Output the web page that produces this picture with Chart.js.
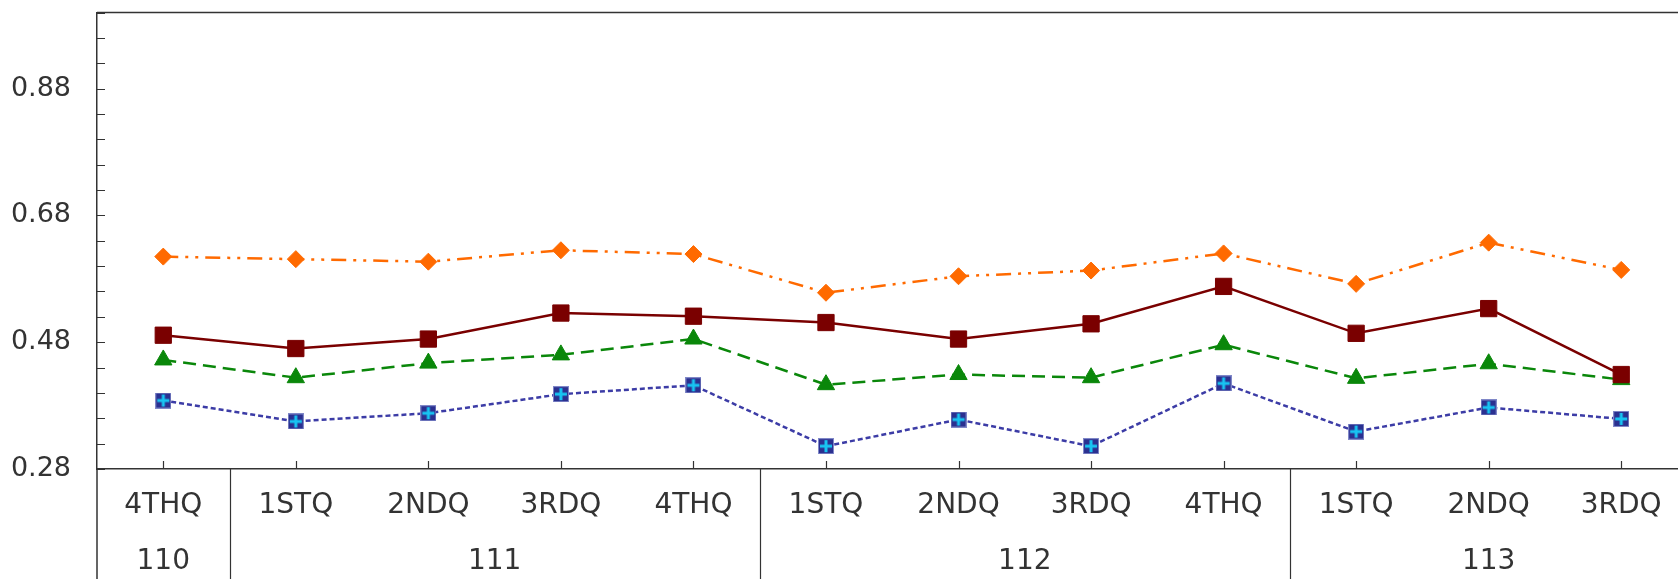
<!DOCTYPE html>
<html>
<head>
<meta charset="utf-8">
<title>Quarterly series</title>
<style>
  html, body { margin: 0; padding: 0; background: #fff; overflow: hidden; }
  /* plot runs a little past the right edge of the window, like the source */
  #wrap { position: absolute; left: 0; top: 0; width: 1700px; height: 579px; }
</style>
<script src="https://cdn.jsdelivr.net/npm/chart.js@4.4.0/dist/chart.umd.min.js"></script>
</head>
<body>
<div id="wrap"><canvas id="chart"></canvas></div>
<script>
// --- data ---
const quarters = ['4THQ', '1STQ', '2NDQ', '3RDQ', '4THQ', '1STQ', '2NDQ', '3RDQ', '4THQ', '1STQ', '2NDQ', '3RDQ'];
const years = ['110', '111', '112', '113'];
const quartersPerYear = [1, 4, 4, 3];

const orangeValues = [0.615, 0.611, 0.607, 0.625, 0.619, 0.558, 0.584, 0.593, 0.620, 0.572, 0.637, 0.594];
const maroonValues = [0.491, 0.470, 0.485, 0.526, 0.521, 0.511, 0.485, 0.509, 0.568, 0.494, 0.533, 0.429];
const greenValues  = [0.452, 0.424, 0.447, 0.460, 0.485, 0.413, 0.429, 0.424, 0.476, 0.423, 0.446, 0.421];
const blueValues   = [0.388, 0.355, 0.368, 0.398, 0.412, 0.316, 0.358, 0.316, 0.415, 0.339, 0.377, 0.359];

const yMin = 0.28, yMax = 1.0, yStep = 0.04;

const AXIS = '#333333';
const TEXT = '#333333';
const FONT = '"DejaVu Sans", "Noto Sans", sans-serif';

// navy square with a cyan cross, used as the blue series marker
function crossSquare() {
    const c = document.createElement('canvas');
    c.width = 16; c.height = 16;
    const g = c.getContext('2d');
    g.fillStyle = '#2B3090';
    g.fillRect(0, 0, 16, 16);
    g.strokeStyle = '#8088c8';
    g.lineWidth = 1;
    g.strokeRect(0.5, 0.5, 15, 15);
    g.fillStyle = '#18c4f2';
    g.fillRect(6.5, 2, 3, 12);
    g.fillRect(2, 6.5, 12, 3);
    return c;
}

// inner tick marks, top border, year dividers and year labels
const decorations = {
    id: 'decorations',
    afterDraw(chart) {
        const { ctx, chartArea: area, scales: { x, y } } = chart;
        const H = chart.height;
        ctx.save();
        ctx.strokeStyle = AXIS;
        ctx.lineWidth = 1.5;
        ctx.beginPath();
        // top border
        ctx.moveTo(area.left, area.top);
        ctx.lineTo(area.right, area.top);
        // left border continues down through the label rows
        ctx.moveTo(area.left, area.bottom);
        ctx.lineTo(area.left, H);
        ctx.stroke();

        ctx.lineWidth = 1.2;
        ctx.beginPath();
        y.ticks.forEach(t => {
            const py = Math.round(y.getPixelForValue(t.value)) + 0.5;
            ctx.moveTo(area.left, py);
            ctx.lineTo(area.left + 8, py);
        });
        quarters.forEach((q, i) => {
            const px = Math.round(x.getPixelForValue(i)) + 0.5;
            ctx.moveTo(px, area.bottom);
            ctx.lineTo(px, area.bottom - 8);
        });
        ctx.stroke();

        // year groups
        let start = 0;
        ctx.fillStyle = TEXT;
        ctx.font = '28px ' + FONT;
        ctx.textAlign = 'center';
        ctx.textBaseline = 'middle';
        years.forEach((yr, k) => {
            const end = start + quartersPerYear[k] - 1;
            const cx = (x.getPixelForValue(start) + x.getPixelForValue(end)) / 2;
            ctx.fillText(yr, cx, 562);
            if (k > 0) {
                const dx = Math.round((x.getPixelForValue(start - 1) + x.getPixelForValue(start)) / 2) + 0.5;
                ctx.beginPath();
                ctx.lineWidth = 1.2;
                ctx.moveTo(dx, area.bottom);
                ctx.lineTo(dx, H);
                ctx.stroke();
            }
            start = end + 1;
        });
        ctx.restore();
    }
};

new Chart(document.getElementById('chart'), {
    type: 'line',
    data: {
        labels: quarters,
        datasets: [
            {
                data: orangeValues,
                borderColor: '#FF6A00', backgroundColor: '#FF6A00',
                borderWidth: 2.5, borderDash: [15, 7, 3, 7, 3, 7],
                pointStyle: 'rectRot', pointRadius: 8.5, pointBorderWidth: 1
            },
            {
                data: maroonValues,
                borderColor: '#7A0000', backgroundColor: '#7A0000',
                borderWidth: 2.5,
                pointStyle: 'rect', pointRadius: 11.5, pointBorderWidth: 1
            },
            {
                data: greenValues,
                borderColor: '#0A870A', backgroundColor: '#0A870A',
                borderWidth: 2.5, borderDash: [13, 7],
                pointStyle: 'triangle', pointRadius: 10, pointBorderWidth: 1
            },
            {
                data: blueValues,
                borderColor: '#3C3CA6', backgroundColor: '#3C3CA6',
                borderWidth: 2.5, borderDash: [5, 3],
                pointStyle: crossSquare(), pointRadius: 8
            }
        ]
    },
    options: {
        responsive: true,
        maintainAspectRatio: false,
        animation: false,
        events: [],
        layout: { padding: { top: 12, right: 7, left: 0, bottom: 0 } },
        plugins: { legend: { display: false }, tooltip: { enabled: false } },
        scales: {
            x: {
                offset: true,
                grid: { display: false, drawTicks: false },
                border: { display: true, color: AXIS, width: 1.5 },
                ticks: {
                    autoSkip: false, maxRotation: 0, padding: 20,
                    color: TEXT, font: { family: FONT, size: 28 }
                },
                afterFit: s => {
                    s.height = 110;
                    s.paddingLeft = 0; s.paddingRight = 0;
                }
            },
            y: {
                min: yMin, max: yMax,
                grid: { display: false, drawTicks: false },
                border: { display: true, color: AXIS, width: 1.5 },
                ticks: {
                    stepSize: yStep, maxTicksLimit: 50, autoSkip: false, padding: 26,
                    color: TEXT, font: { family: FONT, size: 27 },
                    callback: (v, i) => (i % 5 === 0 ? v.toFixed(2) : '')
                },
                afterFit: s => {
                    s.width = 97;
                    s.paddingTop = 0; s.paddingBottom = 0;
                }
            }
        }
    },
    plugins: [decorations]
});
</script>
</body>
</html>
